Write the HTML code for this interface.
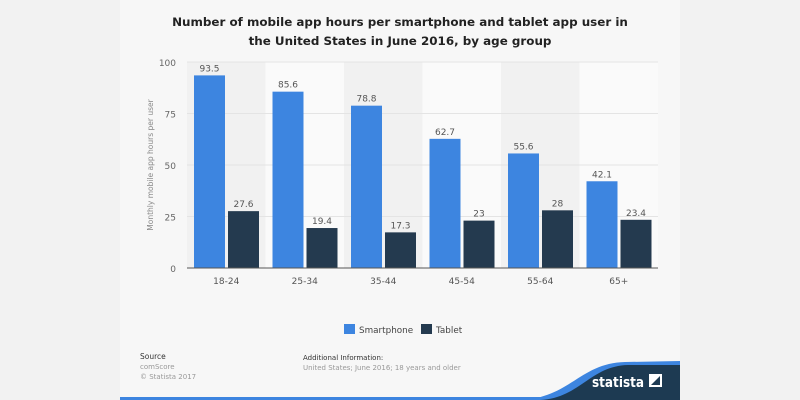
<!DOCTYPE html>
<html><head><meta charset="utf-8"><style>
body{margin:0;width:800px;height:400px;background:#f2f2f2;font-family:"DejaVu Sans","Liberation Sans",sans-serif;overflow:hidden}
#panel{position:absolute;left:120px;top:0;width:560px;height:400px;background:#f7f7f7}
</style></head><body>
<div id="panel"></div>
<svg id="chart" width="800" height="400" style="position:absolute;left:0;top:0">
<text x="400" y="26" text-anchor="middle" font-size="11.9" font-weight="bold" fill="#222">Number of mobile app hours per smartphone and tablet app user in</text>
<text x="400" y="45" text-anchor="middle" font-size="11.9" font-weight="bold" fill="#222">the United States in June 2016, by age group</text>
<text transform="translate(153,165) rotate(-90)" text-anchor="middle" font-size="7.5" fill="#888">Monthly mobile app hours per user</text>
<g id="plot"></g>
<g>
<rect x="344" y="324" width="11" height="10" fill="#3d85e0"/>
<text x="359" y="333" font-size="8.8" fill="#444">Smartphone</text>
<rect x="421" y="324" width="11" height="10" fill="#243a4f"/>
<text x="436" y="333" font-size="8.8" fill="#444">Tablet</text>
</g>
<text x="140" y="359" font-size="7.5" fill="#333">Source</text>
<text x="140" y="369" font-size="7" fill="#999">comScore</text>
<text x="140" y="379" font-size="7" fill="#999">© Statista 2017</text>
<text x="303" y="360" font-size="7" fill="#333">Additional Information:</text>
<text x="303" y="370" font-size="7" fill="#999">United States; June 2016; 18 years and older</text>
<rect x="120" y="397" width="560" height="3" fill="#3d85e0"/>
<path d="M520,400 C570,398 580,363 625,362 L680,361 L680,400 Z" fill="#3d85e0"/>
<path d="M540,400 C580,398 590,366 628,365 L680,365 L680,400 Z" fill="#1d3a52"/>
<text x="592" y="387" font-size="14" font-weight="bold" fill="#fff" textLength="52" lengthAdjust="spacingAndGlyphs">statista</text>
<path d="M649,374 L662,374 L662,387 L649,387 Z M651,385 L660,376 L660,385 Z" fill="#fff" fill-rule="evenodd"/>
</svg>
<script>
const categories=["18-24","25-34","35-44","45-54","55-64","65+"];
const smartphone=[93.5,85.6,78.8,62.7,55.6,42.1];
const tablet=[27.6,19.4,17.3,23,28,23.4];
const yTicks=[0,25,50,75,100];
const X0=187,X1=658,Y0=268,Y1=62,yMax=100;
const NS="http://www.w3.org/2000/svg";
const g=document.getElementById('plot');
const gw=(X1-X0)/categories.length;
const y=v=>Y0-(v/yMax)*(Y0-Y1);
function el(t,a){const e=document.createElementNS(NS,t);for(const k in a)e.setAttribute(k,a[k]);g.appendChild(e);return e;}
categories.forEach((c,i)=>{
  const b=el('rect',{x:X0+i*gw,y:Y1,width:gw,height:Y0-Y1,fill:i%2?'#fafafa':'#f1f1f1'});
  
  
});
yTicks.forEach(t=>{
  const l=el('line',{x1:X0,x2:X1,y1:y(t),y2:y(t),stroke:'#e4e4e4','stroke-width':1});
  
  
  const tx=el('text',{x:176,y:y(t)+4,'text-anchor':'end','font-size':9,fill:'#666'});
  tx.textContent=t;
  
  
});
const bw=31;
categories.forEach((c,i)=>{
  const gx=X0+i*gw;
  [[smartphone,'#3d85e0',7,'smartphone'],[tablet,'#243a4f',41,'tablet']].forEach(([arr,col,off,nm])=>{
    const v=arr[i];
    const r=el('rect',{x:gx+off,y:y(v),width:bw,height:Y0-y(v),fill:col});
    
    
    const t=el('text',{x:gx+off+bw/2,y:y(v)-4,'text-anchor':'middle','font-size':9,fill:'#555'});
    t.textContent=v;
    
    
  });
  const xl=el('text',{x:gx+gw/2,y:284,'text-anchor':'middle','font-size':9,fill:'#555'});
  xl.textContent=c;
  
  
});
const ax=el('line',{x1:X0,x2:X1,y1:Y0,y2:Y0,stroke:'#555','stroke-width':1});


</script>
</body></html>
